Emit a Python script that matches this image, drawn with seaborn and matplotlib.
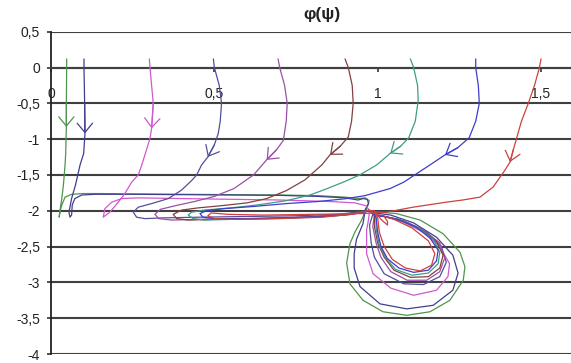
import numpy as np
import pandas as pd
import matplotlib
matplotlib.use("Agg")
import matplotlib.pyplot as plt
import seaborn as sns

sns.set_theme(style="white")
plt.rcParams['font.family'] = ['Liberation Sans', 'DejaVu Sans']

# ---------------- data ----------------
# each trajectory: x values (psi) and y values (phi)
c1_x = [0.048, 0.048, 0.047, 0.047, 0.046, 0.045, 0.043, 0.038, 0.033, 0.028, 0.025, 0.028, 0.033, 0.043, 0.063,
        0.10, 0.15, 0.25, 0.40, 0.55, 0.70, 0.82, 0.90, 0.945, 0.962, 0.974, 0.968, 0.958, 0.951, 0.93, 0.915,
        0.905, 0.915, 0.955, 1.016, 1.089, 1.16, 1.221, 1.262, 1.267, 1.252, 1.20, 1.13, 1.058, 1.007, 0.985]
c1_y = [0.12, 0.0, -0.5, -0.83, -1.0, -1.2, -1.36, -1.64, -1.83, -1.98, -2.09, -2.0, -1.92, -1.81, -1.77,
        -1.76, -1.76, -1.765, -1.77, -1.775, -1.78, -1.79, -1.81, -1.83, -1.82, -1.86, -1.95, -2.05, -2.13, -2.3, -2.46,
        -2.73, -3.02, -3.25, -3.41, -3.46, -3.41, -3.25, -2.97, -2.78, -2.58, -2.32, -2.13, -2.04, -2.02, -2.02]

c2_x = [0.101, 0.101, 0.103, 0.104, 0.10, 0.089, 0.075, 0.063, 0.055, 0.058, 0.063, 0.065, 0.073, 0.094, 0.135,
        0.25, 0.40, 0.55, 0.70, 0.82, 0.90, 0.94, 0.955, 0.968, 0.972, 0.962, 0.955, 0.935, 0.928, 0.928, 0.946,
        1.007, 1.089, 1.17, 1.23, 1.246, 1.23, 1.18, 1.11, 1.04, 0.99]
c2_y = [0.12, 0.0, -0.5, -0.92, -1.2, -1.36, -1.64, -1.83, -2.02, -2.09, -2.06, -1.92, -1.83, -1.78, -1.77,
        -1.77, -1.775, -1.78, -1.785, -1.80, -1.82, -1.85, -1.83, -1.84, -1.90, -1.98, -2.18, -2.40, -2.60, -2.80, -3.06,
        -3.30, -3.37, -3.32, -3.11, -2.87, -2.62, -2.37, -2.17, -2.06, -2.03]

c3_x = [0.301, 0.303, 0.313, 0.308, 0.303, 0.278, 0.267, 0.247, 0.226, 0.206, 0.18, 0.16, 0.165, 0.186, 0.216,
        0.267, 0.40, 0.55, 0.70, 0.85, 0.93, 0.965, 0.975, 0.972, 0.966, 0.966, 0.986, 1.04, 1.11, 1.18, 1.215,
        1.22, 1.19, 1.14, 1.07, 1.01, 0.99]
c3_y = [0.12, 0.0, -0.5, -0.85, -0.99, -1.36, -1.5, -1.6, -1.76, -1.88, -2.02, -2.09, -1.97, -1.88, -1.83,
        -1.82, -1.83, -1.84, -1.85, -1.87, -1.89, -1.93, -2.0, -2.12, -2.27, -2.6, -2.88, -3.08, -3.18, -3.11, -2.92,
        -2.74, -2.5, -2.3, -2.14, -2.06, -2.05]

c4_x = [0.497, 0.50, 0.515, 0.522, 0.518, 0.512, 0.50, 0.48, 0.461, 0.446, 0.43, 0.40, 0.359, 0.308, 0.267,
        0.252, 0.262, 0.288, 0.339, 0.45, 0.60, 0.75, 0.88, 0.95, 0.975, 0.985, 0.975, 0.98, 0.99, 1.02, 1.08,
        1.14, 1.19, 1.21, 1.195, 1.15, 1.08, 1.02, 1.0]
c4_y = [0.12, 0.0, -0.25, -0.5, -0.75, -0.92, -1.08, -1.25, -1.36, -1.5, -1.58, -1.71, -1.83, -1.9, -1.95,
        -2.02, -2.09, -2.11, -2.10, -2.09, -2.08, -2.07, -2.05, -2.01, -1.99, -2.05, -2.2, -2.45, -2.65, -2.88, -3.02,
        -3.03, -2.92, -2.72, -2.5, -2.3, -2.15, -2.08, -2.06]

c5_x = [0.695, 0.70, 0.715, 0.723, 0.72, 0.711, 0.69, 0.66, 0.62, 0.56, 0.50, 0.44, 0.38, 0.335, 0.318,
        0.33, 0.37, 0.45, 0.60, 0.75, 0.88, 0.95, 0.975, 0.99, 0.985, 0.995, 1.01, 1.04, 1.09, 1.15, 1.19,
        1.205, 1.19, 1.14, 1.08, 1.02, 1.0]
c5_y = [0.12, 0.0, -0.25, -0.5, -0.75, -1.02, -1.15, -1.29, -1.5, -1.69, -1.80, -1.87, -1.93, -1.98, -2.05,
        -2.11, -2.13, -2.12, -2.11, -2.09, -2.06, -2.02, -2.0, -2.06, -2.22, -2.45, -2.65, -2.85, -2.97, -2.97, -2.85,
        -2.66, -2.45, -2.27, -2.14, -2.08, -2.07]

c6_x = [0.90, 0.91, 0.922, 0.925, 0.92, 0.91, 0.885, 0.854, 0.829, 0.777, 0.72, 0.66, 0.60, 0.52, 0.45,
        0.40, 0.374, 0.385, 0.42, 0.50, 0.65, 0.78, 0.89, 0.95, 0.975, 0.99, 0.99, 1.0, 1.02, 1.05, 1.10,
        1.155, 1.19, 1.20, 1.18, 1.13, 1.07, 1.02, 1.0]
c6_y = [0.12, 0.0, -0.25, -0.5, -0.75, -0.97, -1.1, -1.22, -1.36, -1.57, -1.72, -1.83, -1.89, -1.93, -1.96,
        -1.99, -2.05, -2.11, -2.13, -2.12, -2.11, -2.09, -2.06, -2.02, -2.0, -2.07, -2.22, -2.45, -2.65, -2.83, -2.93,
        -2.92, -2.8, -2.62, -2.43, -2.25, -2.13, -2.08, -2.07]

c7_x = [1.10, 1.11, 1.122, 1.124, 1.115, 1.095, 1.07, 1.038, 0.997, 0.945, 0.895, 0.84, 0.793, 0.72, 0.63,
        0.55, 0.47, 0.43, 0.42, 0.435, 0.47, 0.55, 0.68, 0.80, 0.90, 0.955, 0.98, 0.995, 0.995, 1.005, 1.025,
        1.055, 1.105, 1.155, 1.185, 1.19, 1.17, 1.125, 1.065, 1.02, 1.005]
c7_y = [0.12, 0.0, -0.25, -0.46, -0.75, -0.98, -1.1, -1.2, -1.36, -1.5, -1.6, -1.7, -1.78, -1.86, -1.92,
        -1.96, -1.99, -2.02, -2.06, -2.11, -2.13, -2.12, -2.11, -2.09, -2.06, -2.02, -2.0, -2.08, -2.25, -2.48, -2.66,
        -2.82, -2.9, -2.87, -2.74, -2.58, -2.40, -2.24, -2.12, -2.08, -2.07]

c8_x = [1.30, 1.30, 1.308, 1.311, 1.30, 1.28, 1.245, 1.206, 1.16, 1.13, 1.08, 1.038, 0.96, 0.905, 0.82,
        0.72, 0.62, 0.53, 0.475, 0.456, 0.465, 0.50, 0.60, 0.72, 0.84, 0.92, 0.965, 0.985, 0.995, 1.0, 1.01,
        1.03, 1.065, 1.11, 1.155, 1.18, 1.185, 1.16, 1.115, 1.06, 1.02, 1.005]
c8_y = [0.12, 0.0, -0.25, -0.5, -0.75, -0.98, -1.12, -1.22, -1.36, -1.45, -1.6, -1.69, -1.79, -1.83, -1.87,
        -1.9, -1.94, -1.97, -2.0, -2.04, -2.09, -2.11, -2.11, -2.1, -2.08, -2.05, -2.01, -2.0, -2.1, -2.3, -2.5,
        -2.67, -2.8, -2.86, -2.83, -2.7, -2.55, -2.38, -2.22, -2.12, -2.08, -2.07]

c9_x = [1.50, 1.495, 1.48, 1.461, 1.44, 1.425, 1.415, 1.405, 1.39, 1.37, 1.353, 1.313, 1.26, 1.21, 1.108,
        1.027, 0.95, 0.80, 0.65, 0.54, 0.49, 0.48, 0.50, 0.56, 0.70, 0.83, 0.92, 0.97, 0.99, 1.0, 1.005,
        1.02, 1.045, 1.085, 1.13, 1.165, 1.175, 1.155, 1.105, 1.05, 1.02, 1.03, 1.03, 1.01, 1.0]
c9_y = [0.12, 0.0, -0.25, -0.5, -0.75, -0.99, -1.15, -1.32, -1.43, -1.56, -1.67, -1.81, -1.85, -1.88, -1.95,
        -2.02, -2.04, -2.05, -2.06, -2.05, -2.03, -2.07, -2.11, -2.12, -2.11, -2.09, -2.05, -2.0, -2.0, -2.1, -2.3,
        -2.5, -2.68, -2.8, -2.84, -2.76, -2.6, -2.42, -2.24, -2.12, -2.08, -2.15, -2.2, -2.12, -2.06]

curve_names = ["0.05", "0.1", "0.3", "0.5", "0.7", "0.9", "1.1", "1.3", "1.5"]
curve_xs = [c1_x, c2_x, c3_x, c4_x, c5_x, c6_x, c7_x, c8_x, c9_x]
curve_ys = [c1_y, c2_y, c3_y, c4_y, c5_y, c6_y, c7_y, c8_y, c9_y]
curve_colors = ["#4f944f", "#3f3f8f", "#cf5acf", "#50509a", "#9a50a8",
                "#83403f", "#3f9c88", "#3d3dcc", "#cf4040"]
arrow_idx = [3, 3, 3, 7, 7, 7, 7, 7, 7]   # index of the point carrying the direction arrow

y_ticks = [0.5, 0, -0.5, -1, -1.5, -2, -2.5, -3, -3.5, -4]
y_labels = ["0,5", "0", "-0,5", "-1", "-1,5", "-2", "-2,5", "-3", "-3,5", "-4"]
x_ticks = [0, 0.5, 1, 1.5]
x_labels = ["0", "0,5", "1", "1,5"]
title = "φ(ψ)"

# ---------------- build long table ----------------
rows = []
for name, xs, ys in zip(curve_names, curve_xs, curve_ys):
    for i, (xv, yv) in enumerate(zip(xs, ys)):
        rows.append({"curve": name, "i": i, "psi": xv, "phi": yv})
df = pd.DataFrame(rows)

# ---------------- figure ----------------
W, H = 571, 363
fig = plt.figure(figsize=(W / 100, H / 100), dpi=100)
x0_px, x1_px = 51, 571
y_top_px, y_bot_px = 31.7, 354.0
ax = fig.add_axes([x0_px / W, (H - y_bot_px) / H, (x1_px - x0_px) / W, (y_bot_px - y_top_px) / H])
ax.set_xlim(0, (x1_px - x0_px) / 326.7)
ax.set_ylim(-4, 0.5)

# horizontal gridlines
for yt in y_ticks:
    ax.axhline(yt, color="#404040", lw=1.5, zorder=1)

sns.lineplot(data=df, x="psi", y="phi", hue="curve", units="curve", estimator=None,
             sort=False, palette=dict(zip(curve_names, curve_colors)), legend=False,
             lw=0.9, ax=ax, zorder=3)

# direction arrows (open chevrons) at chosen points on each curve
for xs, ys, col, k in zip(curve_xs, curve_ys, curve_colors, arrow_idx):
    ax.annotate("", xy=(xs[k], ys[k]), xytext=(xs[k - 1], ys[k - 1]),
                arrowprops=dict(arrowstyle="->,head_length=0.6,head_width=0.5", color=col,
                                lw=0.9, mutation_scale=11, shrinkA=0, shrinkB=0), zorder=4)

# axes styling
for s in ["top", "right"]:
    ax.spines[s].set_visible(False)
ax.spines["left"].set_color("#222222")
ax.spines["left"].set_linewidth(1.3)
ax.spines["bottom"].set_position(("data", 0))
ax.spines["bottom"].set_color("#404040")
ax.spines["bottom"].set_linewidth(1.5)

ax.set_yticks(y_ticks)
ax.set_yticklabels(y_labels)
ax.set_xticks(x_ticks)
ax.set_xticklabels(x_labels)
ax.tick_params(axis="y", direction="out", length=3, width=1.2, color="#333333",
               pad=5, labelsize=10, labelcolor="#222222", left=True)
ax.tick_params(axis="x", direction="out", length=3, width=1.2, color="#333333",
               pad=11, labelsize=10, labelcolor="#222222", bottom=True)
ax.set_xlabel("")
ax.set_ylabel("")
ax.grid(False)

fig.text(322 / W, 1 - 14 / H, title, ha="center", va="center", fontsize=12.5,
         fontweight="bold", color="#222222")

fig.savefig("out.png", dpi=100)
